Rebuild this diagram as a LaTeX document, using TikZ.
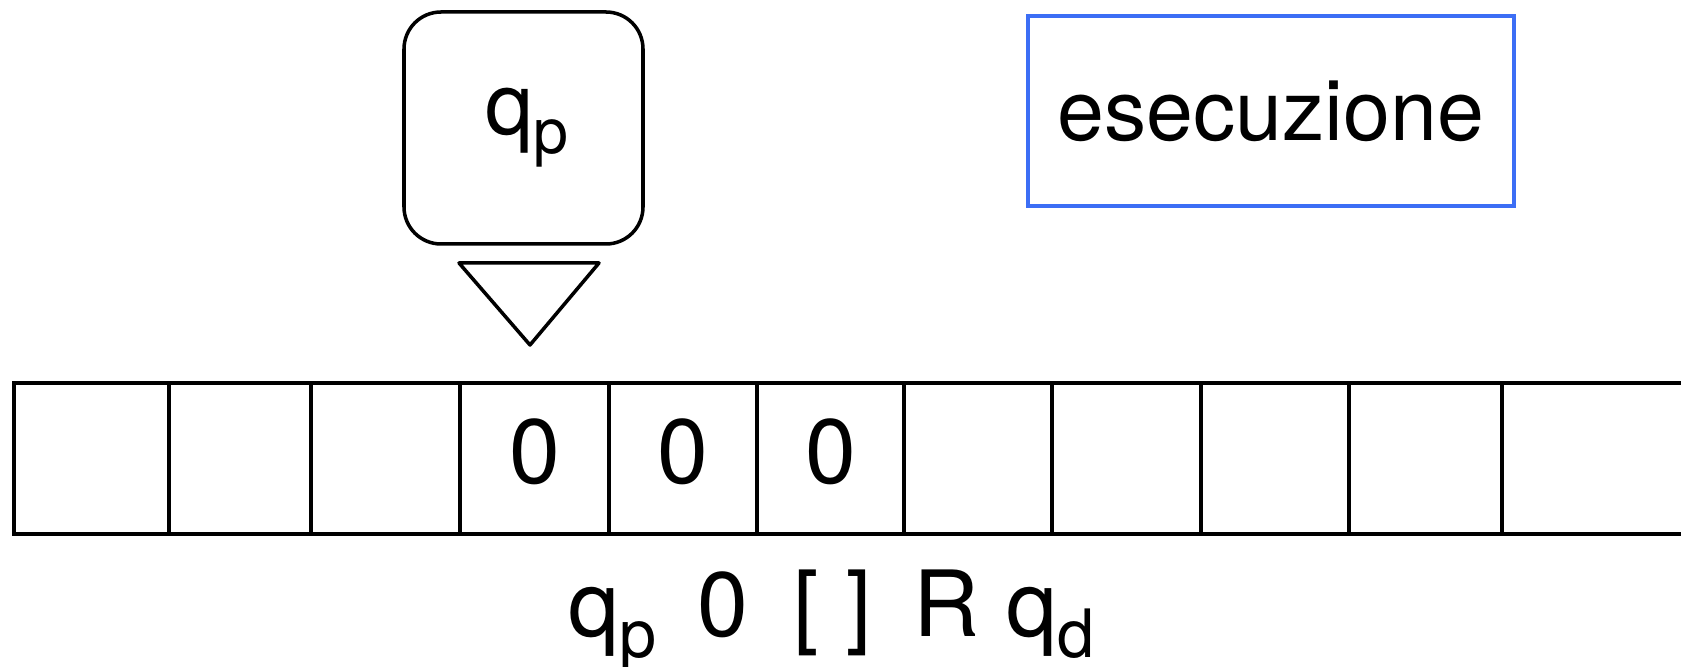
\documentclass[tikz,border=0pt]{standalone}
\usepackage{fontspec}
\setmainfont{TeX Gyre Heros}
\usepackage{tikz}
\usetikzlibrary{positioning}

\definecolor{execblue}{RGB}{60,110,245}
\newcommand{\lowsub}[1]{\raisebox{-0.22em}{\fontsize{0.73em}{0.73em}\selectfont #1}}

\begin{document}
\begin{tikzpicture}[x=0.1mm,y=-0.1mm,line width=1pt,
        block/.style={minimum height=15.1mm,text depth=1.4mm,outer sep=0pt,inner sep=0pt,draw,rectangle,node distance=0pt,font=\fontsize{26}{26}\selectfont},
        head/.style={draw,rounded corners=3.7mm,minimum width=23.9mm,minimum height=23.2mm,outer sep=0pt,font=\fontsize{24.5}{24.5}\selectfont}]
   \useasboundingbox (0,0) rectangle (1681,667);

   \node (A) [block,minimum width=15.5mm,anchor=north west] at (14,383) {};
   \node (B) [block,minimum width=14.2mm,right=of A] {};
   \node (C) [block,minimum width=14.9mm,right=of B] {};
   \node (D) [block,minimum width=14.9mm,right=of C] {0};
   \node (E) [block,minimum width=14.8mm,right=of D] {0};
   \node (F) [block,minimum width=14.7mm,right=of E] {0};
   \node (G) [block,minimum width=14.8mm,right=of F] {};
   \node (H) [block,minimum width=14.9mm,right=of G] {};
   \node (I) [block,minimum width=14.8mm,right=of H] {};
   \node (J) [block,minimum width=15.3mm,right=of I] {};
   \node (K) [block,minimum width=20mm,right=of J] {};

   \node (head) [head] at (523.5,128) {\hspace*{2pt}q\lowsub{p}};
   \draw[line join=round] (459,263) -- (599,263) -- (530,345) -- cycle;

   \node (exec) [draw=execblue,minimum width=48.6mm,minimum height=19mm,font=\fontsize{24}{24}\selectfont] at (1271,111) {esecuzione};

   \node (instr) [inner sep=0pt,anchor=base west,font=\fontsize{26}{26}\selectfont] at (567,637)
      {q\lowsub{p}\hspace{11.6pt}0\hspace{13pt}[\hspace{7.6pt}]\hspace{12pt}R\hspace{7.6pt}q\lowsub{d}};

\end{tikzpicture}
\end{document}
